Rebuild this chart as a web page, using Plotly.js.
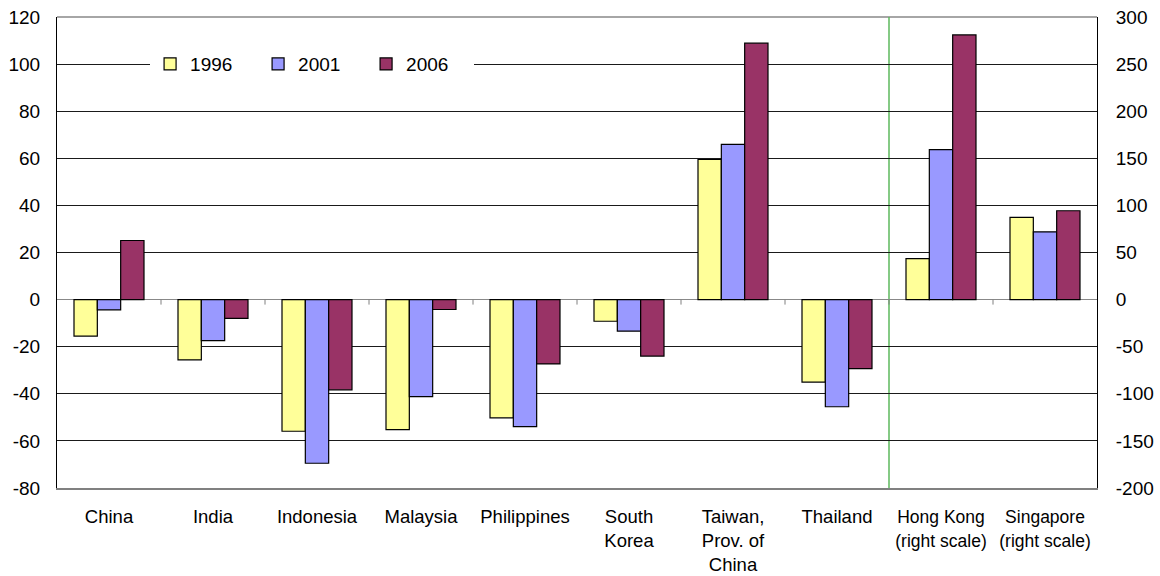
<!DOCTYPE html>
<html>
<head>
<meta charset="utf-8">
<script src="https://cdn.plot.ly/plotly-3.0.1.min.js"></script>
<style>
  html, body { margin: 0; padding: 0; background: #fff; }
  #chart { width: 1160px; height: 576px; }
</style>
</head>
<body>
<div id="chart"></div>
<script>
// Economies measured on the left scale
const leftCategories = ['China', 'India', 'Indonesia', 'Malaysia', 'Philippines',
  'South<br>Korea', 'Taiwan,<br>Prov. of<br>China', 'Thailand'];
// Economies measured on the right scale
const rightCategories = ['<span style="font-size:17.5px">Hong Kong</span><br><span style="font-size:17.5px">(right scale)</span>',
  '<span style="font-size:17.5px">Singapore</span><br><span style="font-size:17.5px">(right scale)</span>'];

const years = ['1996', '2001', '2006'];

const left1996 = [-15.5, -25.6, -55.9, -55.2, -50.2, -9.2, 59.5, -35.0];
const left2001 = [-4.4, -17.4, -69.5, -41.2, -53.9, -13.4, 65.9, -45.5];
const left2006 = [25.1, -8.0, -38.3, -4.2, -27.3, -24.0, 108.9, -29.3];

const right1996 = [43.6, 87.3];
const right2001 = [159.3, 72.0];
const right2006 = [281.0, 94.3];

// Axis tick values and labels (plain hyphen for negatives)
const leftTickVals = [-80, -60, -40, -20, 0, 20, 40, 60, 80, 100, 120];
const leftTickText = ['-80', '-60', '-40', '-20', '0', '20', '40', '60', '80', '100', '120'];
const rightTickVals = [-200, -150, -100, -50, 0, 50, 100, 150, 200, 250, 300];
const rightTickText = ['-200', '-150', '-100', '-50', '0', '50', '100', '150', '200', '250', '300'];

const yearColors = ['#FFFF99', '#9999FF', '#993366'];

const leftSeries = [left1996, left2001, left2006];
const rightSeries = [right1996, right2001, right2006];
const allCategories = leftCategories.concat(rightCategories);

const FONT = 'Liberation Sans, Arial, sans-serif';

const traces = [];
years.forEach((yr, i) => {
  traces.push({
    type: 'bar', name: yr, x: leftCategories, y: leftSeries[i],
    offsetgroup: yr, legendgroup: yr,
    marker: { color: yearColors[i], line: { color: '#000', width: 1.2 } },
    xaxis: 'x', yaxis: 'y'
  });
  traces.push({
    type: 'bar', name: yr, x: rightCategories, y: rightSeries[i],
    offsetgroup: yr, legendgroup: yr, showlegend: false,
    marker: { color: yearColors[i], line: { color: '#000', width: 1.2 } },
    xaxis: 'x', yaxis: 'y2'
  });
});

// small tick marks on the zero line at each category boundary
const boundaryTicks = [];
for (let k = 1; k < allCategories.length; k++) {
  boundaryTicks.push({
    type: 'line', xref: 'x', yref: 'y', x0: k - 0.5, x1: k - 0.5,
    ysizemode: 'pixel', yanchor: 0, y0: 0, y1: -5,
    line: { color: '#808080', width: 1 }, layer: 'above'
  });
}

const layout = {
  width: 1160, height: 576,
  margin: { l: 57, r: 63, t: 17, b: 88 },
  paper_bgcolor: '#fff', plot_bgcolor: '#fff',
  font: { family: FONT, size: 18.5, color: '#000' },
  barmode: 'group',
  bargap: 0.327, bargroupgap: 0,
  showlegend: true,
  legend: {
    orientation: 'h', x: 0.0895, xanchor: 'left', y: 0.9, yanchor: 'middle',
    bgcolor: '#fff', borderwidth: 0, font: { family: FONT, size: 19 },
    entrywidth: 63, entrywidthmode: 'pixels', traceorder: 'normal'
  },
  xaxis: {
    type: 'category', categoryorder: 'array', categoryarray: allCategories,
    range: [-0.5, allCategories.length - 0.5],
    showgrid: false, zeroline: false, showline: true, linecolor: '#808080', linewidth: 1.5,
    ticks: '', ticklabelstandoff: 11, tickfont: { family: FONT, size: 18.5 },
    mirror: false
  },
  yaxis: {
    range: [-80, 120], tickmode: 'array', tickvals: leftTickVals, ticktext: leftTickText,
    showgrid: true, gridcolor: '#1a1a1a', gridwidth: 1,
    zeroline: true, zerolinecolor: '#888', zerolinewidth: 1.5,
    showline: true, linecolor: '#000', linewidth: 1,
    ticks: '', ticklabelstandoff: 12, tickfont: { family: FONT, size: 19 }
  },
  yaxis2: {
    range: [-200, 300], tickmode: 'array', tickvals: rightTickVals, ticktext: rightTickText,
    overlaying: 'y', side: 'right', showgrid: false, zeroline: false,
    showline: true, linecolor: '#000', linewidth: 1,
    ticks: '', ticklabelstandoff: 14, tickfont: { family: FONT, size: 19 }
  },
  shapes: [
    // top border of the plot area
    { type: 'line', xref: 'paper', yref: 'paper', x0: 0, x1: 1, y0: 1, y1: 1,
      line: { color: '#888', width: 1.5 }, layer: 'below' },
    // divider between left-scale and right-scale economies
    { type: 'line', xref: 'x', yref: 'paper', x0: leftCategories.length - 0.5, x1: leftCategories.length - 0.5,
      y0: 0, y1: 1, line: { color: '#5cb85c', width: 1.5 }, layer: 'below' }
  ].concat(boundaryTicks)
};

Plotly.newPlot('chart', traces, layout, { staticPlot: true, displayModeBar: false });
</script>
</body>
</html>
